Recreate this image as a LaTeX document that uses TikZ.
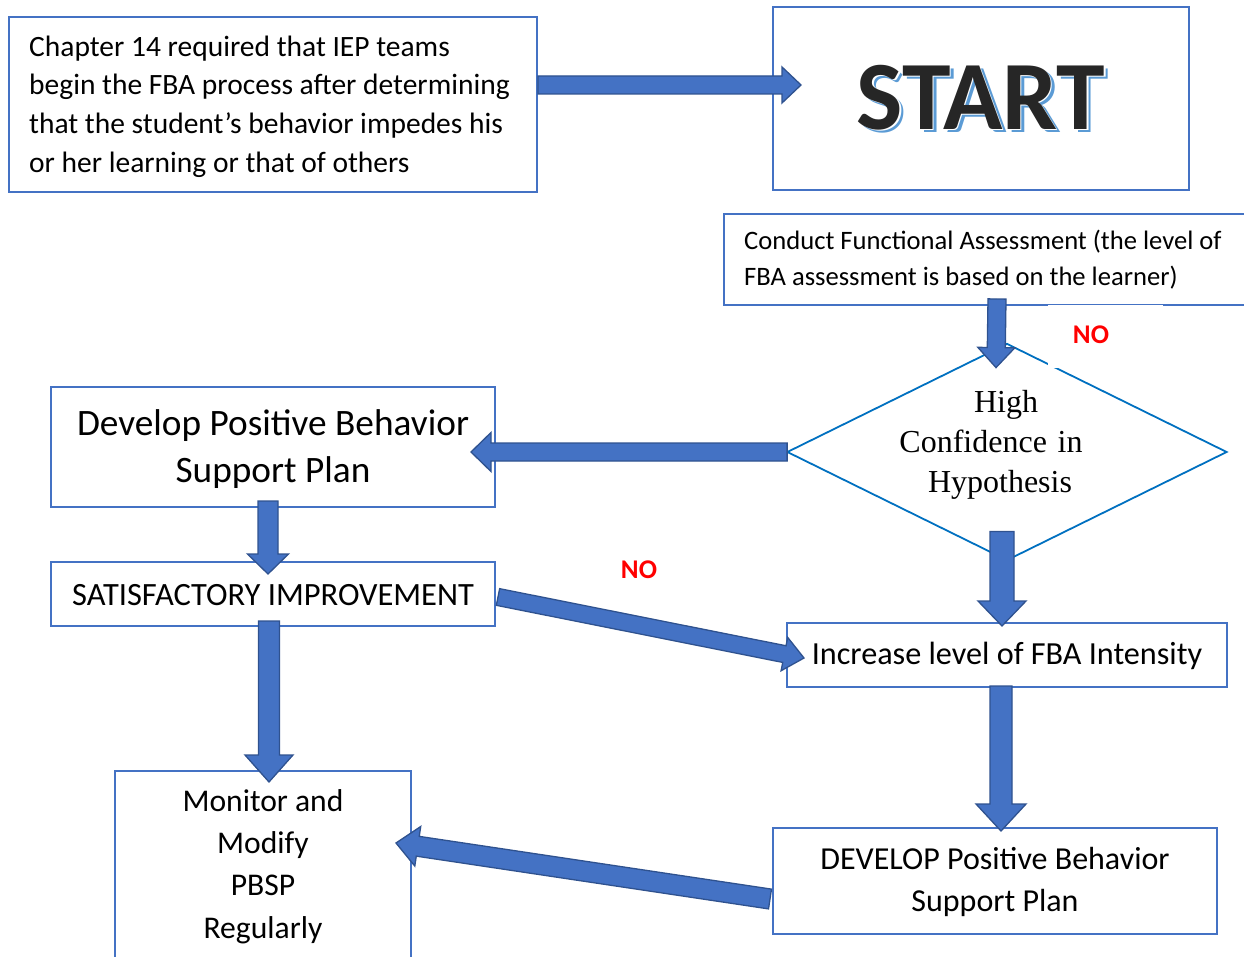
\documentclass[tikz,border=0pt]{standalone}
\usepackage{fontspec}
\setmainfont{Carlito}
\newfontfamily\serifface{Liberation Serif}
\usetikzlibrary{shapes.geometric,calc}

\definecolor{boxblue}{HTML}{4472C4}
\definecolor{arrowfill}{HTML}{4472C4}
\definecolor{arrowline}{HTML}{2F528F}
\definecolor{diablue}{HTML}{0070C0}
\definecolor{shadowblue}{HTML}{5B9BD5}
\definecolor{inkblack}{HTML}{262626}
\definecolor{nored}{HTML}{FF0000}

\tikzset{
  box/.style={draw=boxblue, line width=2pt, inner sep=0pt},
  decision/.style={diamond, draw=diablue, line width=1.8pt, inner sep=0pt},
  blockarrow/.style={fill=arrowfill, draw=arrowline, line width=1.3pt, line join=miter},
  label/.style={inner sep=0pt, align=center},
  nolabel/.style={inner sep=0pt, text=nored, font=\fontsize{27}{30}\selectfont\bfseries},
}

% block arrow: tail, tip, shaft half-width, head half-width, head length
\newcommand\blockarrow[5]{%
  \coordinate (ba-h) at ($(#2)!#5!(#1)$);
  \draw[blockarrow] ($(#1)!#3!90:(#2)$) -- ($(ba-h)!#3!90:(#2)$)
    -- ($(ba-h)!#4!90:(#2)$) -- (#2) -- ($(ba-h)!#4!-90:(#2)$)
    -- ($(ba-h)!#3!-90:(#2)$) -- ($(#1)!#3!-90:(#2)$) -- cycle;}

% heading word with a blue drop shadow and a thin white rim
\newcommand\shadowword[1]{%
  \makebox[0pt][l]{\hspace*{4pt}\raisebox{-3pt}{\textcolor{shadowblue}{#1}}}%
  \makebox[0pt][l]{\hspace*{1.5pt}\raisebox{-1pt}{\textcolor{white}{#1}}}%
  \textcolor{inkblack}{#1}}

\begin{document}
\begin{tikzpicture}[x=1pt,y=-1pt]
\useasboundingbox (0,0) rectangle (1244,957);

% boxes
\node[box, minimum width=528pt, minimum height=175pt] (chap) at (273,104.5) {};
\node[label, anchor=west, align=left, font=\fontsize{29.5}{38.7}\selectfont]
  (chaptext) at ($(chap.west)+(21,2)$)
  {Chapter 14 required that IEP teams\\begin the FBA process after determining\\that the student’s behavior impedes his\\or her learning or that of others};

\node[box, minimum width=416pt, minimum height=183pt] (start) at (981,98.5) {};
\node[label, font=\fontsize{98}{100}\selectfont\bfseries]
  (starttext) at ($(start.center)+(0,1)$) {\shadowword{START}};

\node[box, anchor=north west, minimum width=531pt, minimum height=91pt] (conduct) at (723,213) {};
\node[label, anchor=west, align=left, font=\fontsize{26.6}{36}\selectfont]
  (conducttext) at ($(conduct.west)+(21,0)$)
  {Conduct Functional Assessment (the level of\\FBA assessment is based on the learner)};

\node[decision, minimum width=440pt, minimum height=217pt] (dia) at (1007,452) {};
\node[label, text width=300pt, font=\fontsize{32}{40}\selectfont\serifface] (diatext) at (998,445)
  {\hspace*{16pt}High\\Confidence in\hspace*{14pt}\mbox{}\\\hspace*{4pt}Hypothesis};

\node[fill=white, inner sep=0pt, minimum width=115pt, minimum height=63pt] (no1box) at (1105.5,336.5) {};
\node[nolabel] (no1) at (1091,335) {NO};

\node[box, minimum width=444pt, minimum height=120pt] (devp) at (273,447) {};
\node[label, font=\fontsize{37.3}{47}\selectfont] (devptext) at ($(devp.center)+(0,2)$)
  {Develop Positive Behavior\\Support Plan};

\node[box, minimum width=444pt, minimum height=64pt] (sat) at (273,594) {};
\node[label, font=\fontsize{32.5}{40}\selectfont] (sattext) at ($(sat.center)+(0,1)$)
  {SATISFACTORY IMPROVEMENT};

\node[nolabel] (no2) at (639,570) {NO};

\node[box, minimum width=440pt, minimum height=64pt] (incr) at (1007,655) {};
\node[label, font=\fontsize{32.2}{40}\selectfont] (incrtext) at ($(incr.center)+(0,1)$)
  {Increase level of FBA Intensity};

\node[box, anchor=north, minimum width=296pt, minimum height=220pt] (mon) at (263,770) {};
\node[label, font=\fontsize{31.6}{42.3}\selectfont] (montext) at (263,866.5)
  {Monitor and\\Modify\\PBSP\\Regularly};

\node[box, minimum width=444pt, minimum height=106pt] (dev2) at (995,881) {};
\node[label, font=\fontsize{32}{42}\selectfont] (dev2text) at ($(dev2.center)+(0,1)$)
  {DEVELOP Positive Behavior\\Support Plan};

% connector end points
\coordinate (a1t) at ($(chap.east)+(0,-19.5)$);
\coordinate (a1h) at ($(start.west)+(29,-13.5)$);
\coordinate (a2t) at ($(conduct.south)+(7.5,-7)$);
\coordinate (a2h) at ($(dia.north)+(-11,25)$);
\coordinate (a3t) at ($(dia.west)+(1,0)$);
\coordinate (a3h) at ($(devp.east)+(-25,5)$);
\coordinate (a4t) at ($(dia.south)+(-5,-30)$);
\coordinate (a4h) at ($(incr.north)+(-5,4)$);
\coordinate (a5t) at ($(devp.south)+(-5,-7)$);
\coordinate (a5h) at ($(sat.north)+(-5,13)$);
\coordinate (a6t) at ($(sat.south)+(-4,-6)$);
\coordinate (a6h) at ($(mon.north)+(6,12)$);
\coordinate (a7t) at ($(sat.east)+(2,3)$);
\coordinate (a7h) at ($(incr.west)+(18,3)$);
\coordinate (a8t) at ($(incr.south)+(-6,-2)$);
\coordinate (a8h) at ($(dev2.north)+(6,4)$);
\coordinate (a9t) at ($(dev2.west)+(-2,18)$);
\coordinate (a9h) at ($(mon.east)+(-16,-38)$);

% block arrows
\blockarrow{a1t}{a1h}{9pt}{18pt}{19pt}
\blockarrow{a2t}{a2h}{9pt}{18.5pt}{20pt}
\blockarrow{a3t}{a3h}{9pt}{19.5pt}{20pt}
\blockarrow{a4t}{a4h}{12pt}{24pt}{25pt}
\blockarrow{a5t}{a5h}{10pt}{20.5pt}{20pt}
\blockarrow{a6t}{a6h}{10.5pt}{24pt}{27pt}
\blockarrow{a7t}{a7h}{8.5pt}{17pt}{20pt}
\blockarrow{a8t}{a8h}{11pt}{25pt}{27pt}
\blockarrow{a9t}{a9h}{10pt}{20pt}{22pt}
\end{tikzpicture}
\end{document}
